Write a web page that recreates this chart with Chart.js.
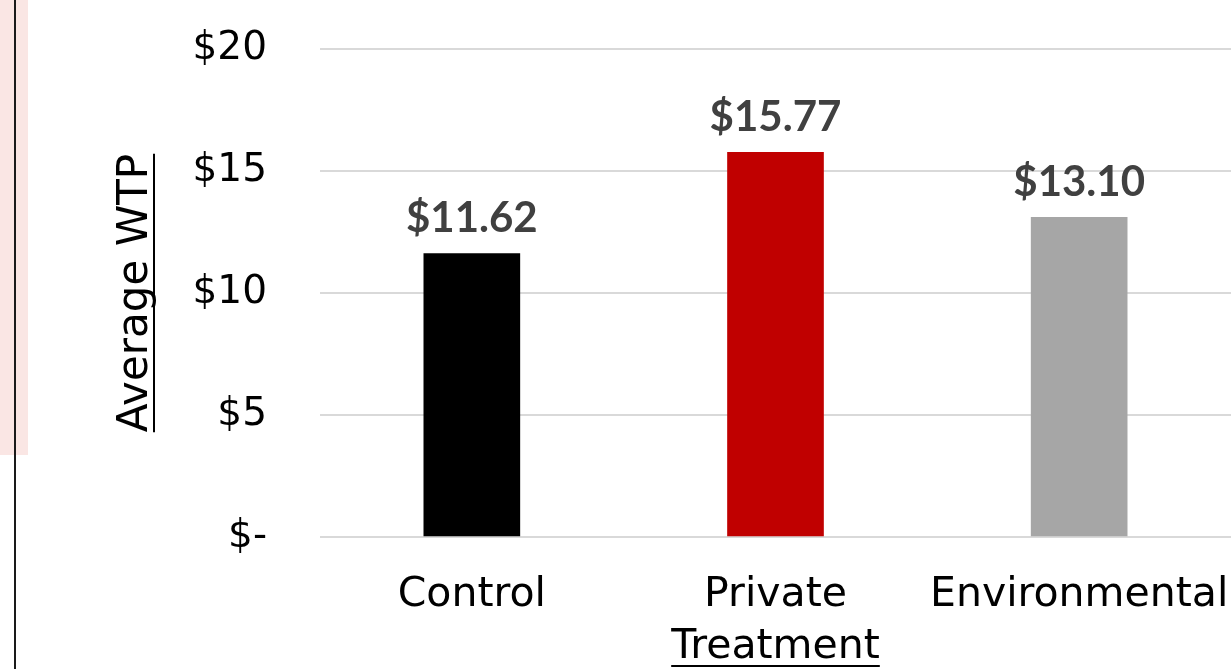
<!DOCTYPE html>
<html>
<head>
<meta charset="utf-8">
<title>Average WTP by Treatment</title>
<script src="https://cdn.jsdelivr.net/npm/chart.js@4.4.1/dist/chart.umd.min.js"></script>
<style>
  html, body { margin: 0; padding: 0; background: #ffffff; overflow: hidden; }
  #stage { position: relative; width: 1231px; height: 669px; }
  #band { position: absolute; left: 0; top: 0; width: 28px; height: 455px; background: #fae6e4; }
  #rule { position: absolute; left: 14px; top: 0; width: 2px; height: 669px; background: #1a1a1a; }
  #chartBox { position: absolute; left: 0; top: 0; width: 1231px; height: 669px; }
</style>
</head>
<body>
<div id="stage">
  <div id="band"></div>
  <div id="rule"></div>
  <div id="chartBox"><canvas id="wtp" width="1231" height="669"></canvas></div>
</div>
<script>
// Treatment groups and their average willingness to pay
const categories = ['Control', 'Private', 'Environmental'];
const avgWTP = [11.62, 15.77, 13.10];
const barColors = ['#000000', '#c00000', '#a6a6a6'];
const yTickValues = [0, 5, 10, 15, 20];

const xTitle = 'Treatment';
const yTitle = 'Average WTP';

const xTickFont = { family: '"DejaVu Sans", sans-serif', size: 41, lineHeight: 1.2 };
const yTickFont = { family: '"DejaVu Sans", sans-serif', size: 39, lineHeight: 1.2 };
const xTitleFont = { family: '"DejaVu Sans", sans-serif', size: 41, lineHeight: 1.0 };
const yTitleFont = { family: '"DejaVu Sans", sans-serif', size: 42, lineHeight: 1.0 };
const valueFont = 'bold 42px Lato, "Open Sans", sans-serif';

const money = v => (v === 0 ? '$-' : '$' + v);

// Dollar amounts above each bar
const valueLabels = {
  id: 'valueLabels',
  afterDatasetsDraw(chart) {
    const ctx = chart.ctx;
    const meta = chart.getDatasetMeta(0);
    ctx.save();
    ctx.font = valueFont;
    ctx.fillStyle = '#404040';
    ctx.textAlign = 'center';
    ctx.textBaseline = 'alphabetic';
    meta.data.forEach((bar, i) => {
      const v = chart.data.datasets[0].data[i];
      ctx.fillText('$' + v.toFixed(2), bar.x, bar.y - 21);
    });
    ctx.restore();
  }
};

// Underline both axis titles
const underlineTitles = {
  id: 'underlineTitles',
  afterDraw(chart) {
    const ctx = chart.ctx;
    const xs = chart.scales.x, ys = chart.scales.y;
    ctx.save();
    ctx.strokeStyle = '#000000';
    ctx.lineWidth = 2;

    ctx.font = `${xTitleFont.size}px ${xTitleFont.family}`;
    const xw = ctx.measureText(xTitle).width;
    const xcx = (xs.left + xs.right) / 2;
    const xcy = xs.bottom - (xTitleFont.size * xTitleFont.lineHeight / 2 + xs.options.title.padding.bottom);
    const uy = Math.round(xcy + 18);
    ctx.beginPath();
    ctx.moveTo(xcx - xw / 2, uy);
    ctx.lineTo(xcx + xw / 2, uy);
    ctx.stroke();

    ctx.font = `${yTitleFont.size}px ${yTitleFont.family}`;
    const yw = ctx.measureText(yTitle).width;
    const ycx = ys.left + yTitleFont.size * yTitleFont.lineHeight / 2 + ys.options.title.padding.top;
    const ycy = (ys.top + ys.bottom) / 2;
    const ux = Math.round(ycx + 18);
    ctx.beginPath();
    ctx.moveTo(ux, ycy - yw / 2);
    ctx.lineTo(ux, ycy + yw / 2);
    ctx.stroke();
    ctx.restore();
  }
};

new Chart(document.getElementById('wtp'), {
  type: 'bar',
  data: {
    labels: categories,
    datasets: [{
      data: avgWTP,
      backgroundColor: barColors,
      borderWidth: 0,
      barThickness: 96
    }]
  },
  options: {
    responsive: false,
    animation: false,
    devicePixelRatio: 1,
    layout: { padding: { top: 49, left: 0, right: 0, bottom: 0 } },
    plugins: {
      legend: { display: false },
      tooltip: { enabled: false }
    },
    scales: {
      x: {
        grid: { display: false, drawTicks: false },
        border: { display: false },
        ticks: { color: '#000000', font: xTickFont, padding: 34, maxRotation: 0, autoSkip: false },
        title: { display: true, text: xTitle, color: '#000000', font: xTitleFont, padding: { top: 0, bottom: 1 } },
        afterFit(s) { s.height = 132; s.paddingLeft = 0; s.paddingRight = 0; }
      },
      y: {
        min: 0,
        max: 20,
        afterBuildTicks(s) { s.ticks = yTickValues.map(v => ({ value: v })); },
        grid: { color: '#d9d9d9', lineWidth: 2, drawTicks: false },
        border: { display: false },
        ticks: { color: '#000000', font: yTickFont, padding: 53, callback: money },
        title: { display: true, text: yTitle, color: '#000000', font: yTitleFont, padding: { top: 115, bottom: 0 } },
        afterFit(s) { s.width = 320; s.paddingTop = 0; s.paddingBottom = 0; }
      }
    }
  },
  plugins: [valueLabels, underlineTitles]
});
</script>
</body>
</html>
